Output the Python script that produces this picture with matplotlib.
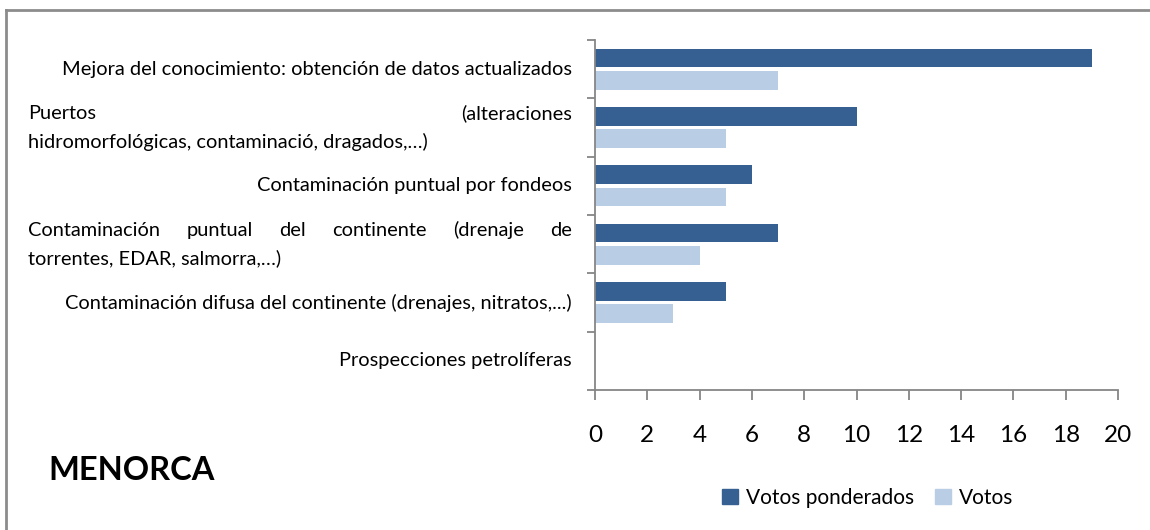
import matplotlib
matplotlib.use('Agg')
import matplotlib.pyplot as plt
from matplotlib.lines import Line2D
from matplotlib.patches import Patch
from matplotlib.transforms import blended_transform_factory

# ---- data ----
category_lines = [
    ["Mejora del conocimiento: obtención de datos actualizados"],
    ["Puertos (alteraciones", "hidromorfológicas, contaminació, dragados,…)"],
    ["Contaminación puntual por fondeos"],
    ["Contaminación puntual del continente (drenaje de", "torrentes, EDAR, salmorra,…)"],
    ["Contaminación difusa del continente (drenajes, nitratos,...)"],
    ["Prospecciones petrolíferas"],
]
votos_ponderados = [19, 10, 6, 7, 5, 0]
votos = [7, 5, 5, 4, 3, 0]
xticks = list(range(0, 21, 2))
series_names = ["Votos ponderados", "Votos"]
title = "MENORCA"

DARK = "#376092"
LIGHT = "#B9CDE5"
AXC = "#868686"
FONT = "Lato"

W, H = 1150, 530
fig = plt.figure(figsize=(W / 100, H / 100), dpi=100)
fig.patch.set_facecolor("white")

left, right, top, bottom = 595, 1118, 40, 390
ax = fig.add_axes([left / W, 1 - bottom / H, (right - left) / W, (bottom - top) / H])

n = len(category_lines)
ys = list(range(n))
bh = 0.32
off = 0.19
ax.barh([y - off for y in ys], votos_ponderados, height=bh, color=DARK, label=series_names[0])
ax.barh([y + off for y in ys], votos, height=bh, color=LIGHT, label=series_names[1])

ax.set_xlim(0, 20)
ax.set_ylim(n - 0.5, -0.5)
ax.set_xticks(xticks)
ax.set_xticklabels([str(t) for t in xticks], fontsize=17.5, family=FONT, color="black")
ax.set_yticks([y - 0.5 for y in range(n + 1)])
ax.set_yticklabels([])
for s in ["top", "right"]:
    ax.spines[s].set_visible(False)
for s in ["left", "bottom"]:
    ax.spines[s].set_color(AXC)
    ax.spines[s].set_linewidth(1.3)
ax.tick_params(axis="x", direction="out", length=7, width=1.3, color=AXC, pad=18)
ax.tick_params(axis="y", direction="out", length=6, width=1.3, color=AXC)

# ---- category labels (right aligned / justified) ----
renderer = fig.canvas.get_renderer()
trans = blended_transform_factory(fig.dpi_scale_trans, ax.transData)
lab_left, lab_right = 28 / 100, 572 / 100
line_gap = 0.48
fs = 14.4
for i, lines in enumerate(category_lines):
    k = len(lines)
    for j, line in enumerate(lines):
        y = i + (j - (k - 1) / 2) * line_gap
        if k == 1:
            fig.text(lab_right, y, line, transform=trans, ha="right", va="center",
                     fontsize=fs, family=FONT)
        elif j == k - 1:
            fig.text(lab_left, y, line, transform=trans, ha="left", va="center",
                     fontsize=fs, family=FONT)
        else:
            words = line.split(" ")
            texts = [fig.text(0, y, w, transform=trans, ha="left", va="center",
                              fontsize=fs, family=FONT) for w in words]
            widths = [t.get_window_extent(renderer).width / 100 for t in texts]
            gap = (lab_right - lab_left - sum(widths)) / (len(words) - 1)
            x = lab_left
            for t, wd in zip(texts, widths):
                t.set_x(x)
                x += wd + gap

# ---- title ----
fig.text(48 / W, 1 - 471 / H, title, fontsize=23.5, fontweight="bold", family=FONT,
         ha="left", va="center")

# ---- legend ----
handles = [Patch(color=DARK), Patch(color=LIGHT)]
fig.legend(handles, series_names, loc="center", bbox_to_anchor=(868 / W, 1 - 498 / H),
           ncol=2, frameon=False, prop={"family": FONT, "size": 15},
           handlelength=0.75, handleheight=0.75, handletextpad=0.4, columnspacing=1.0)

# ---- outer border (top & left) ----
fig.add_artist(Line2D([6 / W, 6 / W], [0, 1 - 10 / H], transform=fig.transFigure,
                      color="#8C8C8C", lw=2))
fig.add_artist(Line2D([6 / W, 1], [1 - 10 / H, 1 - 10 / H], transform=fig.transFigure,
                      color="#8C8C8C", lw=2))

fig.savefig("out.png", dpi=100)
